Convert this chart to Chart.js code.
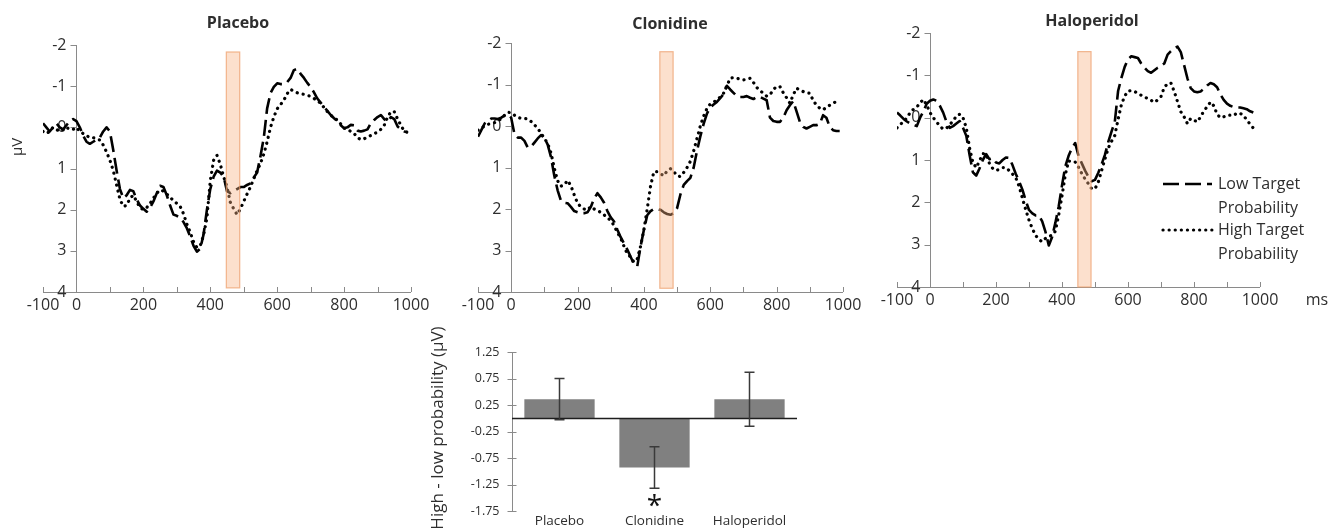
<!DOCTYPE html>
<html>
<head>
<meta charset="utf-8">
<script src="https://cdn.jsdelivr.net/npm/chart.js@4.4.1/dist/chart.umd.min.js"></script>
<style>
  html, body { margin: 0; padding: 0; background: #fff; }
  #wrap { position: relative; width: 1338px; height: 532px; overflow: hidden; }
  #wrap canvas { position: absolute; left: 0; top: 0; }
</style>
</head>
<body>
<div id="wrap">
  <canvas id="placebo" width="1338" height="532"></canvas>
  <canvas id="clonidine" width="1338" height="532"></canvas>
  <canvas id="haloperidol" width="1338" height="532"></canvas>
  <canvas id="diff" width="1338" height="532"></canvas>
</div>
<script>
// time axis (ms), one sample every 10 ms
const times = [
  -100, -90, -80, -70, -60, -50, -40, -30, -20, -10,
  0, 10, 20, 30, 40, 50, 60, 70, 80, 90,
  100, 110, 120, 130, 140, 150, 160, 170, 180, 190,
  200, 210, 220, 230, 240, 250, 260, 270, 280, 290,
  300, 310, 320, 330, 340, 350, 360, 370, 380, 390,
  400, 410, 420, 430, 440, 450, 460, 470, 480, 490,
  500, 510, 520, 530, 540, 550, 560, 570, 580, 590,
  600, 610, 620, 630, 640, 650, 660, 670, 680, 690,
  700, 710, 720, 730, 740, 750, 760, 770, 780, 790,
  800, 810, 820, 830, 840, 850, 860, 870, 880, 890,
  900, 910, 920, 930, 940, 950, 960, 970, 980, 990
];
const uvTicks = [-2, -1, 0, 1, 2, 3, 4];
const msTicks = [-100, 0, 100, 200, 300, 400, 500, 600, 700, 800, 900, 1000];
const msLabels = [-100, 0, 200, 400, 600, 800, 1000];
const windowMs = [448, 488];
const seriesNames = [['Low Target', 'Probability'], ['High Target', 'Probability']];

// placebo (µV)
const placeboLow = [
  -0.1, 0.0, 0.1, 0.0, -0.1, 0.0, 0.05, -0.05, -0.15, -0.2,
  -0.15, 0.0, 0.2, 0.35, 0.4, 0.35, 0.3, 0.25, 0.1, 0.0,
  0.1, 0.55, 1.05, 1.5, 1.72, 1.65, 1.52, 1.55, 1.75, 1.9,
  1.98, 2.05, 1.95, 1.8, 1.6, 1.42, 1.45, 1.65, 1.9, 2.12,
  2.15, 2.2, 2.3, 2.45, 2.65, 2.88, 3.02, 2.95, 2.6, 2.0,
  1.5, 1.2, 1.05, 1.1, 1.2, 1.55, 1.6, 1.55, 1.5, 1.45,
  1.45, 1.4, 1.36, 1.22, 1.1, 0.7, 0.25, -0.46, -0.83, -0.98,
  -1.07, -1.05, -1.05, -1.1, -1.2, -1.39, -1.42, -1.3, -1.2, -1.08,
  -0.98, -0.85, -0.7, -0.6, -0.5, -0.4, -0.3, -0.22, -0.15, -0.05,
  0.02, 0.0, -0.06, -0.05, 0.08, 0.1, 0.08, 0.05, -0.1, -0.18,
  -0.25, -0.3, -0.2, -0.14, -0.25, -0.2, -0.02, 0.05, 0.1, 0.12
];
const placeboHigh = [
  0.1, 0.15, 0.1, 0.0, 0.05, 0.1, 0.05, 0.0, 0.05, 0.05,
  0.0, 0.1, 0.15, 0.2, 0.25, 0.25, 0.28, 0.31, 0.43, 0.6,
  0.8, 1.05, 1.4, 1.75, 1.92, 1.9, 1.72, 1.65, 1.8, 1.95,
  2.0, 1.95, 1.85, 1.72, 1.6, 1.52, 1.55, 1.62, 1.7, 1.78,
  1.85, 1.92, 2.1, 2.35, 2.55, 2.78, 2.92, 2.88, 2.62, 2.2,
  1.3, 0.8, 0.68, 0.9, 1.2, 1.45, 1.82, 1.98, 2.12, 1.98,
  1.8, 1.62, 1.45, 1.25, 1.05, 0.88, 0.65, 0.35, 0.0, -0.25,
  -0.45, -0.55, -0.66, -0.82, -0.92, -0.88, -0.84, -0.82, -0.8, -0.78,
  -0.75, -0.7, -0.65, -0.58, -0.48, -0.38, -0.3, -0.22, -0.18, -0.08,
  0.02, 0.05, 0.1, 0.15, 0.25, 0.3, 0.28, 0.23, 0.2, 0.15,
  0.12, 0.05, -0.05, -0.25, -0.38, -0.38, -0.2, -0.05, 0.1, 0.12
];

// clonidine (µV)
const clonidineLow = [
  0.26, 0.1, -0.06, -0.12, -0.18, -0.18, -0.17, -0.2, -0.25, -0.28,
  -0.2, 0.2, 0.28, 0.28, 0.36, 0.52, 0.5, 0.4, 0.3, 0.22,
  0.28, 0.45, 0.75, 1.2, 1.55, 1.8, 1.85, 1.86, 1.95, 2.05,
  2.08, 2.1, 2.1, 2.08, 1.95, 1.75, 1.62, 1.72, 1.85, 2.05,
  2.2, 2.3, 2.5, 2.68, 2.83, 2.98, 3.15, 3.33, 3.38, 2.9,
  2.5, 2.15, 2.05, 2.0, 2.0, 2.02, 2.08, 2.12, 2.14, 2.1,
  1.98, 1.65, 1.42, 1.33, 1.25, 1.0, 0.6, 0.25, -0.05, -0.3,
  -0.45, -0.52, -0.58, -0.67, -0.77, -0.97, -0.88, -0.8, -0.72, -0.7,
  -0.7, -0.72, -0.68, -0.65, -0.7, -0.7, -0.66, -0.62, -0.2, -0.12,
  -0.1, -0.1, -0.2, -0.38, -0.5, -0.6, -0.35, -0.1, 0.02, 0.06,
  0.02, -0.02, -0.02, -0.05, -0.26, -0.2, 0.02, 0.1, 0.12, 0.12
];
const clonidineHigh = [
  0.1, 0.05, 0.0, -0.04, -0.06, -0.08, -0.12, -0.18, -0.26, -0.33,
  -0.32, -0.26, -0.21, -0.18, -0.18, -0.17, -0.11, -0.03, 0.06, 0.17,
  0.3, 0.42, 0.65, 1.02, 1.32, 1.45, 1.42, 1.31, 1.44, 1.66,
  1.86, 1.95, 2.0, 2.02, 1.94, 2.0, 2.04, 2.08, 2.14, 2.22,
  2.27, 2.4, 2.56, 2.7, 2.9, 3.08, 3.16, 3.28, 3.2, 2.9,
  2.5, 2.0, 1.45, 1.1, 1.1, 1.15, 1.2, 1.08, 1.03, 1.1,
  1.2, 1.22, 1.12, 1.0, 0.85, 0.6, 0.3, 0.0, -0.24, -0.42,
  -0.53, -0.58, -0.62, -0.7, -0.79, -0.97, -1.15, -1.17, -1.15, -1.13,
  -1.11, -1.13, -1.15, -1.05, -0.93, -0.85, -0.79, -0.72, -0.75, -0.88,
  -0.95, -0.95, -0.8, -0.68, -0.55, -0.75, -0.91, -0.87, -0.83, -0.8,
  -0.79, -0.62, -0.5, -0.43, -0.39, -0.45, -0.5, -0.55, -0.59, -0.6
];

// haloperidol (µV)
const haloperidolLow = [
  -0.12, -0.05, 0.03, 0.09, 0.14, 0.17, 0.2, 0.0, -0.15, -0.33,
  -0.4, -0.43, -0.4, -0.28, -0.12, 0.1, 0.24, 0.2, 0.14, 0.08,
  0.24, 0.43, 0.88, 1.29, 1.37, 1.2, 1.0, 0.86, 0.98, 0.96,
  1.06, 1.08, 1.0, 0.94, 0.95, 1.12, 1.33, 1.5, 1.7, 1.96,
  2.18, 2.26, 2.31, 2.31, 2.45, 2.7, 3.02, 2.82, 2.48, 2.1,
  1.6, 1.15, 0.9, 0.72, 0.6, 0.9, 1.08, 1.25, 1.4, 1.5,
  1.47, 1.3, 1.1, 0.88, 0.58, 0.33, 0.1, -0.63, -0.94, -1.2,
  -1.38, -1.45, -1.43, -1.41, -1.28, -1.18, -1.1, -1.06, -1.12, -1.18,
  -1.22, -1.28, -1.49, -1.57, -1.63, -1.68, -1.55, -1.24, -0.93, -0.7,
  -0.62, -0.6, -0.62, -0.68, -0.76, -0.82, -0.79, -0.72, -0.55, -0.42,
  -0.33, -0.28, -0.25, -0.24, -0.24, -0.22, -0.2, -0.15, -0.12, -0.1
];
const haloperidolHigh = [
  0.24, 0.16, 0.1, 0.0, -0.12, -0.2, -0.25, -0.35, -0.43, -0.3,
  -0.12, 0.0, 0.1, 0.2, 0.27, 0.25, 0.16, 0.08, -0.04, -0.08,
  0.0, 0.24, 0.72, 1.06, 1.18, 1.02, 0.85, 0.86, 1.08, 1.2,
  1.25, 1.22, 1.18, 1.18, 1.25, 1.33, 1.42, 1.62, 1.9, 2.17,
  2.42, 2.62, 2.78, 2.88, 2.93, 2.85, 2.8, 2.78, 2.68, 2.3,
  1.85, 1.35, 1.02, 1.05, 1.05, 1.17, 1.32, 1.45, 1.56, 1.68,
  1.68, 1.52, 1.25, 0.98, 0.72, 0.56, 0.42, 0.04, -0.31, -0.51,
  -0.63, -0.64, -0.62, -0.57, -0.53, -0.49, -0.45, -0.41, -0.36, -0.42,
  -0.5, -0.72, -0.8, -0.82, -0.62, -0.38, -0.14, -0.02, 0.14, 0.02,
  0.06, 0.1, -0.02, -0.16, -0.26, -0.37, -0.28, -0.08, 0.0, -0.02,
  -0.06, -0.06, -0.05, -0.11, -0.1, -0.06, 0.06, 0.15, 0.25, 0.28
];

// high - low difference in the window
const barLabels = ['Placebo', 'Clonidine', 'Haloperidol'];
const barMeans = [0.36, -0.93, 0.36];
const barErrors = [0.39, 0.39, 0.51];
const barStars = [false, true, false];
const diffTicks = [1.25, 0.75, 0.25, -0.25, -0.75, -1.25, -1.75];

const W = 1338, H = 532;
const FONT = '"Open Sans", sans-serif';
const AXIS = '#8a8a8a';
const TEXT = '#2e2e2e';

const lowStyle = { borderColor: '#000', borderWidth: 2.6, borderDash: [16, 6], borderCapStyle: 'butt' };
const highStyle = { borderColor: '#000', borderWidth: 3.2, borderDash: [0.1, 6], borderCapStyle: 'round' };

function pad(area) {
  return { left: area.left, right: W - area.right, top: area.top, bottom: H - area.bottom };
}

const erpPlugin = {
  id: 'erp',
  beforeDatasetsDraw(chart, args, o) {
    const { ctx, chartArea: a, scales: { x, y } } = chart;
    const x0 = Math.round(x.getPixelForValue(0)) + 0.5;
    ctx.save();
    ctx.strokeStyle = AXIS;
    ctx.lineWidth = 1;
    ctx.beginPath();
    ctx.moveTo(x0, a.top);
    ctx.lineTo(x0, a.bottom);
    ctx.moveTo(a.left, a.bottom + 0.5);
    ctx.lineTo(a.right, a.bottom + 0.5);
    uvTicks.forEach(v => {
      const py = Math.round(y.getPixelForValue(v)) + 0.5;
      ctx.moveTo(x0 - 6, py);
      ctx.lineTo(x0, py);
    });
    msTicks.forEach(v => {
      const px = Math.round(x.getPixelForValue(v)) + 0.5;
      ctx.moveTo(px, a.bottom);
      ctx.lineTo(px, a.bottom - 5);
    });
    ctx.stroke();

    ctx.fillStyle = TEXT;
    ctx.font = '16px ' + FONT;
    ctx.textAlign = 'right';
    ctx.textBaseline = 'middle';
    uvTicks.forEach(v => ctx.fillText(String(v), x0 - 10, y.getPixelForValue(v)));
    ctx.textAlign = 'center';
    ctx.textBaseline = 'top';
    msLabels.forEach(v => ctx.fillText(String(v), x.getPixelForValue(v), a.bottom + 5));
    if (o.unitX) ctx.fillText('ms', o.unitX, a.bottom + 5);

    ctx.font = 'bold 16px ' + FONT;
    ctx.textBaseline = 'middle';
    ctx.fillText(o.title, o.titleX, o.titleY);

    if (o.yTitle) {
      ctx.translate(o.yTitle[0], o.yTitle[1]);
      ctx.rotate(-Math.PI / 2);
      ctx.font = '15px ' + FONT;
      ctx.fillText('μV', 0, 0);
    }
    ctx.restore();
  },
  afterDatasetsDraw(chart, args, o) {
    const { ctx, scales: { x, y } } = chart;
    ctx.save();
    const bx0 = x.getPixelForValue(windowMs[0]);
    const bx1 = x.getPixelForValue(windowMs[1]);
    const by0 = y.getPixelForValue(o.boxTop);
    const by1 = y.getPixelForValue(o.boxBottom);
    ctx.fillStyle = 'rgba(247, 178, 130, 0.40)';
    ctx.fillRect(bx0, by0, bx1 - bx0, by1 - by0);
    ctx.strokeStyle = 'rgba(238, 160, 110, 0.75)';
    ctx.lineWidth = 1.2;
    ctx.strokeRect(bx0, by0, bx1 - bx0, by1 - by0);

    if (o.legend) {
      const L = o.legend;
      chart.data.datasets.forEach((ds, i) => {
        const ly = L.rows[i];
        ctx.strokeStyle = ds.borderColor;
        ctx.lineWidth = ds.borderWidth;
        ctx.lineCap = ds.borderCapStyle;
        ctx.setLineDash(ds.borderDash);
        ctx.beginPath();
        ctx.moveTo(L.x1, ly);
        ctx.lineTo(L.x2, ly);
        ctx.stroke();
        ctx.setLineDash([]);
        ctx.fillStyle = TEXT;
        ctx.font = '16px ' + FONT;
        ctx.textAlign = 'left';
        ctx.textBaseline = 'middle';
        seriesNames[i].forEach((line, k) => ctx.fillText(line, L.textX, ly + k * L.lineGap));
      });
    }
    ctx.restore();
  }
};

function makeErp(id, area, low, high, opts) {
  return new Chart(document.getElementById(id), {
    type: 'line',
    data: {
      datasets: [
        { label: seriesNames[0].join(' '), data: times.map((t, i) => ({ x: t, y: low[i] })), ...lowStyle },
        { label: seriesNames[1].join(' '), data: times.map((t, i) => ({ x: t, y: high[i] })), ...highStyle }
      ]
    },
    options: {
      responsive: false,
      devicePixelRatio: 1,
      animation: false,
      events: [],
      layout: { padding: pad(area) },
      elements: { point: { radius: 0 }, line: { tension: 0, borderJoinStyle: 'round' } },
      scales: {
        x: { type: 'linear', min: -100, max: 1000, display: false },
        y: { type: 'linear', min: -2, max: 4, reverse: true, display: false }
      },
      plugins: { legend: { display: false }, tooltip: { enabled: false }, erp: opts }
    },
    plugins: [erpPlugin]
  });
}

makeErp('placebo', { left: 43, right: 411, top: 45, bottom: 292 }, placeboLow, placeboHigh,
  { title: 'Placebo', titleX: 238, titleY: 23, boxTop: -1.83, boxBottom: 3.9, yTitle: [18, 147] });
makeErp('clonidine', { left: 478, right: 843, top: 43, bottom: 292 }, clonidineLow, clonidineHigh,
  { title: 'Clonidine', titleX: 670, titleY: 24, boxTop: -1.79, boxBottom: 3.91 });
makeErp('haloperidol', { left: 897, right: 1260, top: 33, bottom: 287 }, haloperidolLow, haloperidolHigh,
  { title: 'Haloperidol', titleX: 1092, titleY: 21, boxTop: -1.56, boxBottom: 4.0, unitX: 1317,
    legend: { x1: 1163, x2: 1212, textX: 1218, rows: [184, 230], lineGap: 24 } });

// bar chart of the difference
const diffPlugin = {
  id: 'diffAxes',
  beforeDatasetsDraw(chart) {
    const { ctx, chartArea: a, scales: { y } } = chart;
    const ax = Math.round(a.left) + 0.5;
    ctx.save();
    ctx.strokeStyle = AXIS;
    ctx.lineWidth = 1;
    ctx.beginPath();
    ctx.moveTo(ax, y.getPixelForValue(diffTicks[0]));
    ctx.lineTo(ax, y.getPixelForValue(diffTicks[diffTicks.length - 1]));
    diffTicks.forEach(v => {
      const py = Math.round(y.getPixelForValue(v)) + 0.5;
      ctx.moveTo(ax - 5, py);
      ctx.lineTo(ax + 4, py);
    });
    ctx.stroke();
    ctx.fillStyle = TEXT;
    ctx.font = '12.5px ' + FONT;
    ctx.textAlign = 'right';
    ctx.textBaseline = 'middle';
    diffTicks.forEach(v => ctx.fillText(v.toFixed(2), ax - 13, y.getPixelForValue(v)));
    ctx.translate(438, 428);
    ctx.rotate(-Math.PI / 2);
    ctx.font = '17px ' + FONT;
    ctx.textAlign = 'center';
    ctx.fillText('High - low probability (μV)', 0, 0);
    ctx.restore();
  },
  afterDatasetsDraw(chart) {
    const { ctx, chartArea: a, scales: { y } } = chart;
    const meta = chart.getDatasetMeta(0);
    ctx.save();
    const zy = Math.round(y.getPixelForValue(0)) + 0.5;
    ctx.strokeStyle = '#1e1e1e';
    ctx.lineWidth = 1.6;
    ctx.beginPath();
    ctx.moveTo(a.left, zy);
    ctx.lineTo(a.right, zy);
    ctx.stroke();

    ctx.strokeStyle = '#3a3a3a';
    ctx.lineWidth = 1.5;
    meta.data.forEach((bar, i) => {
      const top = y.getPixelForValue(barMeans[i] + barErrors[i]);
      const bot = y.getPixelForValue(barMeans[i] - barErrors[i]);
      ctx.beginPath();
      ctx.moveTo(bar.x, top);
      ctx.lineTo(bar.x, bot);
      ctx.moveTo(bar.x - 5, top);
      ctx.lineTo(bar.x + 5, top);
      ctx.moveTo(bar.x - 5, bot);
      ctx.lineTo(bar.x + 5, bot);
      ctx.stroke();
      if (barStars[i]) {
        ctx.fillStyle = '#111';
        ctx.font = '28px ' + FONT;
        ctx.textAlign = 'center';
        ctx.textBaseline = 'top';
        ctx.fillText('*', bar.x, bot + 5);
      }
      ctx.fillStyle = TEXT;
      ctx.font = '13.5px ' + FONT;
      ctx.textAlign = 'center';
      ctx.textBaseline = 'top';
      ctx.fillText(barLabels[i], bar.x, a.bottom + 3);
    });
    ctx.restore();
  }
};

new Chart(document.getElementById('diff'), {
  type: 'bar',
  data: {
    labels: barLabels,
    datasets: [{
      label: 'High - low probability',
      data: barMeans,
      backgroundColor: '#808080',
      borderWidth: 0,
      barPercentage: 0.74,
      categoryPercentage: 1
    }]
  },
  options: {
    responsive: false,
    devicePixelRatio: 1,
    animation: false,
    events: [],
    layout: { padding: pad({ left: 512, right: 797, top: 352, bottom: 511 }) },
    scales: {
      x: { display: false },
      y: { min: -1.75, max: 1.25, display: false }
    },
    plugins: { legend: { display: false }, tooltip: { enabled: false } }
  },
  plugins: [diffPlugin]
});
</script>
</body>
</html>
